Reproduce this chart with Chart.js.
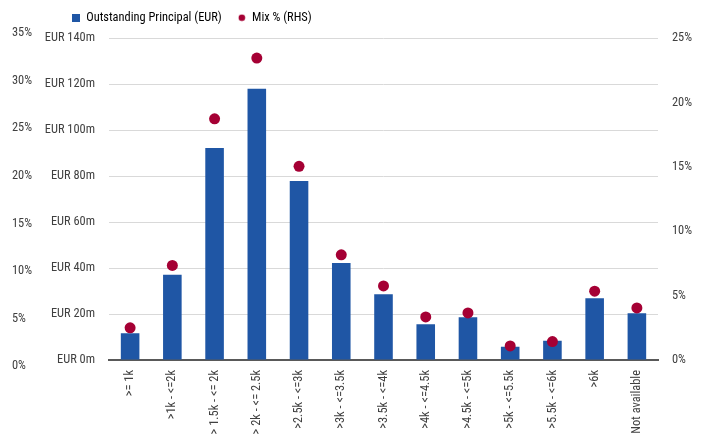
<!DOCTYPE html>
<html>
<head>
<meta charset="utf-8">
<title>Outstanding Principal by balance band</title>
<script src="https://cdn.jsdelivr.net/npm/chart.js@4.4.1/dist/chart.umd.min.js"></script>
<style>
  html, body { margin: 0; padding: 0; background: #ffffff; }
  #wrap { width: 712px; height: 445px; }
</style>
</head>
<body>
<div id="wrap"><canvas id="c" width="712" height="445"></canvas></div>
<script>
// Balance bands
const categories = [">= 1k", ">1k - <=2k", "> 1.5k - <= 2k", "> 2k - <= 2.5k", ">2.5k - <=3k",
  ">3k - <=3.5k", ">3.5k - <=4k", ">4k - <=4.5k", ">4.5k - <=5k", ">5k - <=5.5k",
  ">5.5k - <=6k", ">6k", "Not available"];

// Outstanding principal, EUR millions
const principalEURm = [11.6, 37.1, 92.3, 118.1, 77.9, 42.2, 28.6, 15.6, 18.6, 5.8, 8.4, 26.9, 20.4];

// Share of pool, percent (right-hand axis)
const mixPct = [2.5, 7.35, 18.75, 23.47, 15.06, 8.18, 5.76, 3.35, 3.66, 1.09, 1.43, 5.35, 4.05];

// Tick values
const eurTicks = [0, 20, 40, 60, 80, 100, 120, 140];
const rhsTicks = [0, 5, 10, 15, 20, 25];
const outerPctTicks = [0, 5, 10, 15, 20, 25, 30, 35];

const BLUE = "#1f56a5";
const RED = "#a50034";
const FONT = "'Roboto Condensed', 'Roboto', sans-serif";
const FONT_SIZE = 12.4;
const TEXT = "#404040";

// Small legend markers
function markerCanvas(kind) {
  const cv = document.createElement("canvas");
  cv.width = 8; cv.height = 8;
  const g = cv.getContext("2d");
  if (kind === "rect") {
    g.fillStyle = BLUE;
    g.fillRect(0, 0, 8, 8);
  } else {
    g.fillStyle = RED;
    g.beginPath();
    g.arc(4, 4, 3.3, 0, Math.PI * 2);
    g.fill();
  }
  return cv;
}
const legendRect = markerCanvas("rect");
const legendDot = markerCanvas("dot");

// Moves the legend row to the left of the top band
const legendPlacement = {
  id: "legendPlacement",
  afterLayout(chart) {
    const lg = chart.legend;
    if (!lg) return;
    const h = lg.bottom - lg.top;
    lg.left = 56;
    lg.right = 712;
    lg.top = -4.5;
    lg.bottom = lg.top + h;
  }
};

Chart.defaults.font.family = FONT;
Chart.defaults.font.size = FONT_SIZE;
Chart.defaults.color = TEXT;

new Chart(document.getElementById("c"), {
  data: {
    labels: categories,
    datasets: [
      {
        type: "bar",
        label: "Outstanding Principal (EUR)",
        data: principalEURm,
        yAxisID: "yEur",
        backgroundColor: BLUE,
        borderWidth: 0,
        categoryPercentage: 1,
        barPercentage: 0.44,
        order: 2
      },
      {
        type: "line",
        label: "Mix % (RHS)",
        data: mixPct,
        yAxisID: "yRhs",
        showLine: false,
        pointStyle: "circle",
        pointRadius: 5.5,
        pointBackgroundColor: RED,
        pointBorderWidth: 0,
        order: 1
      }
    ]
  },
  options: {
    responsive: false,
    devicePixelRatio: 1,
    animation: false,
    layout: { padding: { left: 12, right: 14, top: 0, bottom: 0 } },
    plugins: {
      tooltip: { enabled: false },
      legend: {
        position: "top",
        align: "start",
        labels: {
          usePointStyle: true,
          boxWidth: 8,
          boxHeight: 8,
          padding: 16,
          color: TEXT,
          font: { family: FONT, size: FONT_SIZE },
          generateLabels(chart) {
            return chart.data.datasets.map((ds, i) => ({
              text: ds.label,
              datasetIndex: i,
              pointStyle: i === 0 ? legendRect : legendDot,
              fillStyle: i === 0 ? BLUE : RED,
              strokeStyle: "rgba(0,0,0,0)",
              lineWidth: 0,
              hidden: false
            }));
          }
        }
      }
    },
    scales: {
      x: {
        type: "category",
        position: "bottom",
        z: 1,
        grid: { display: false, drawTicks: false },
        border: { display: true, color: "#595959", width: 2 },
        ticks: { minRotation: 90, maxRotation: 90, padding: 10, autoSkip: false, color: TEXT },
        afterFit(s) { s.height = 85; }
      },
      yEur: {
        type: "linear",
        position: "left",
        weight: 0,
        min: 0,
        max: 140,
        grid: { color: "#d9d9d9", lineWidth: 1, drawTicks: false },
        border: { display: false },
        ticks: { padding: 14, color: TEXT, callback: v => "EUR " + v + "m" },
        afterBuildTicks(s) { s.ticks = eurTicks.map(v => ({ value: v })); },
        afterFit(s) { s.width = 64; }
      },
      // Outer percentage scale on the far left, slightly taller than the plot
      yOuter: {
        type: "linear",
        position: "left",
        weight: 1,
        bounds: "data",
        min: 0.63,
        max: 34.47,
        grid: { display: false, drawTicks: false },
        border: { display: false },
        ticks: { crossAlign: "far", padding: 0, color: TEXT, callback: v => v + "%" },
        afterBuildTicks(s) { s.ticks = outerPctTicks.map(v => ({ value: v })); },
        afterFit(s) { s.width = 33; }
      },
      yRhs: {
        type: "linear",
        position: "right",
        min: 0,
        max: 25,
        grid: { display: false, drawTicks: false },
        border: { display: false },
        ticks: { padding: 14, color: TEXT, callback: v => v + "%" },
        afterBuildTicks(s) { s.ticks = rhsTicks.map(v => ({ value: v })); },
        afterFit(s) { s.width = 40; }
      }
    }
  },
  plugins: [legendPlacement]
});
</script>
</body>
</html>
